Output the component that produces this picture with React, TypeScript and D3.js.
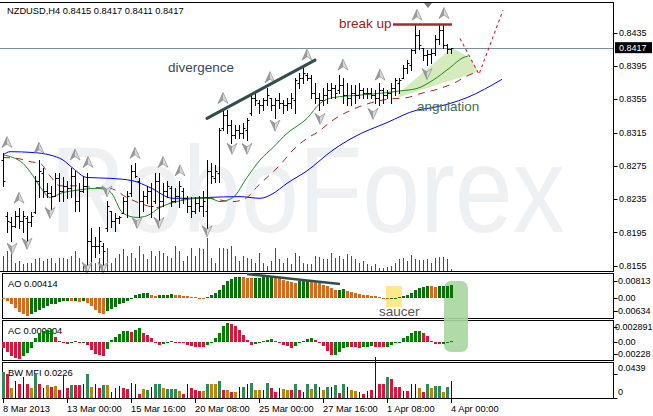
import React from "react";
import * as d3 from "d3";

// NZDUSD H4 bars (index 0 = 8 Mar 2013)
const opens = [
  0.8282, 0.8215, 0.8207, 0.8203, 0.8215, 0.8209, 0.8212, 0.8207, 0.8219, 0.8257,
  0.8267, 0.8245, 0.8242, 0.8239, 0.826, 0.8245, 0.8251, 0.8248, 0.8263, 0.8233,
  0.8245, 0.8251, 0.8185, 0.8179, 0.8179, 0.8179, 0.82, 0.8221, 0.8209, 0.8212,
  0.8218, 0.8233, 0.8242, 0.8269, 0.8257, 0.8233, 0.8239, 0.8245, 0.8233, 0.8257,
  0.8233, 0.8245, 0.8248, 0.8233, 0.8239, 0.8245, 0.8236, 0.8227, 0.8221, 0.823,
  0.8227, 0.8221, 0.8269, 0.826, 0.8267, 0.832, 0.8336, 0.8324, 0.8312, 0.8318,
  0.8315, 0.8318, 0.8338, 0.8357, 0.8351, 0.8348, 0.8354, 0.8356, 0.8348, 0.8354,
  0.835, 0.8348, 0.8351, 0.8354, 0.8375, 0.838, 0.8384, 0.8381, 0.8362, 0.8356,
  0.8354, 0.836, 0.8366, 0.8368, 0.8366, 0.8372, 0.836, 0.8356, 0.8363, 0.836,
  0.8366, 0.8363, 0.8362, 0.836, 0.8357, 0.8366, 0.836, 0.8362, 0.8368, 0.8375,
  0.8381, 0.8392, 0.8396, 0.8414, 0.8432, 0.8417, 0.8408, 0.841, 0.8411, 0.8428,
  0.8438, 0.842, 0.8415,
];
const highs = [
  0.8291, 0.8219, 0.8213, 0.8221, 0.8224, 0.8221, 0.8215, 0.8219, 0.8263, 0.8282,
  0.8273, 0.8254, 0.8251, 0.8266, 0.8266, 0.8261, 0.8257, 0.8273, 0.8269, 0.8254,
  0.8263, 0.8266, 0.82, 0.8189, 0.8201, 0.8182, 0.8233, 0.8221, 0.8218, 0.8215,
  0.8237, 0.8245, 0.8276, 0.8278, 0.826, 0.8245, 0.8251, 0.8254, 0.8266, 0.8267,
  0.8254, 0.8257, 0.8251, 0.8248, 0.8257, 0.8248, 0.8239, 0.8237, 0.8237, 0.8239,
  0.8245, 0.8282, 0.8279, 0.8276, 0.832, 0.8342, 0.8342, 0.833, 0.8324, 0.8324,
  0.8326, 0.8333, 0.8362, 0.8363, 0.8354, 0.8357, 0.8368, 0.8357, 0.8357, 0.8362,
  0.8354, 0.8356, 0.8362, 0.8381, 0.8386, 0.8396, 0.8386, 0.8384, 0.8374, 0.8362,
  0.8368, 0.8374, 0.8375, 0.8372, 0.8384, 0.8381, 0.8375, 0.8372, 0.8372, 0.8375,
  0.8368, 0.8368, 0.8369, 0.8366, 0.8374, 0.8368, 0.8366, 0.8374, 0.8381, 0.8381,
  0.8396, 0.8402, 0.8416, 0.8444, 0.8438, 0.8417, 0.8414, 0.8416, 0.8432, 0.8446,
  0.8446, 0.8422, 0.8417,
];
const lows = [
  0.8251, 0.8195, 0.8185, 0.8201, 0.82, 0.8195, 0.8185, 0.8203, 0.8218, 0.8237,
  0.8237, 0.8237, 0.8221, 0.8239, 0.8233, 0.8233, 0.8236, 0.8237, 0.8221, 0.8221,
  0.8243, 0.8153, 0.8161, 0.8165, 0.817, 0.8153, 0.8197, 0.8201, 0.8197, 0.8206,
  0.8218, 0.8213, 0.8239, 0.8261, 0.8213, 0.8221, 0.823, 0.8213, 0.823, 0.8209,
  0.8227, 0.8237, 0.8227, 0.8231, 0.8225, 0.823, 0.8219, 0.8213, 0.8218, 0.8221,
  0.8215, 0.82, 0.8254, 0.8255, 0.8255, 0.8318, 0.8314, 0.8303, 0.8308, 0.8308,
  0.8309, 0.8306, 0.8336, 0.8348, 0.8338, 0.8342, 0.8348, 0.8342, 0.8333, 0.8344,
  0.8338, 0.8342, 0.8344, 0.8339, 0.8368, 0.8374, 0.8378, 0.8357, 0.835, 0.8342,
  0.8348, 0.835, 0.8357, 0.8357, 0.8363, 0.8351, 0.8348, 0.8348, 0.8351, 0.8356,
  0.8357, 0.8357, 0.8356, 0.835, 0.8348, 0.8351, 0.8356, 0.8351, 0.836, 0.8363,
  0.8381, 0.8386, 0.839, 0.8411, 0.8416, 0.8402, 0.8396, 0.8398, 0.8408, 0.8422,
  0.8417, 0.8411, 0.8411,
];
const closes = [
  0.8257, 0.8209, 0.8203, 0.8215, 0.8209, 0.8215, 0.8207, 0.8215, 0.8257, 0.8269,
  0.8245, 0.8242, 0.8239, 0.826, 0.8245, 0.8251, 0.8248, 0.8263, 0.8233, 0.8245,
  0.8251, 0.8185, 0.8179, 0.8179, 0.8185, 0.8173, 0.8227, 0.8209, 0.8212, 0.8213,
  0.8233, 0.8239, 0.8269, 0.8263, 0.8233, 0.8239, 0.8245, 0.8227, 0.8257, 0.8233,
  0.8245, 0.8251, 0.8233, 0.8239, 0.8251, 0.8236, 0.8227, 0.8221, 0.823, 0.8227,
  0.8233, 0.8269, 0.8263, 0.8269, 0.8318, 0.8336, 0.8324, 0.8312, 0.8318, 0.8315,
  0.832, 0.833, 0.8357, 0.8354, 0.8348, 0.8354, 0.836, 0.8348, 0.8354, 0.835,
  0.8348, 0.8351, 0.8356, 0.8378, 0.838, 0.8386, 0.8381, 0.8362, 0.8356, 0.8354,
  0.836, 0.8366, 0.8368, 0.8363, 0.8372, 0.836, 0.8356, 0.8363, 0.836, 0.8366,
  0.8363, 0.8362, 0.836, 0.8357, 0.8366, 0.836, 0.8362, 0.8368, 0.8378, 0.8378,
  0.8392, 0.8398, 0.8414, 0.8432, 0.842, 0.8408, 0.841, 0.8411, 0.8428, 0.8438,
  0.842, 0.8416, 0.8417,
];
const volumes = [
  1500, 2000, 1700, 800, 1000, 700, 800, 800, 1200, 1300,
  1000, 1200, 1300, 800, 1300, 1300, 1200, 1500, 2000, 1300,
  500, 1000, 1300, 800, 1300, 1700, 2300, 800, 1300, 1700,
  2200, 1500, 1800, 1300, 2500, 1700, 1200, 2000, 1500, 2000,
  1800, 1500, 1300, 2500, 2000, 1000, 1500, 2300, 1500, 2300,
  2200, 3300, 1300, 800, 2300, 2300, 2200, 2500, 1500, 1000,
  1500, 1300, 1200, 800, 1800, 800, 500, 1000, 2300, 1200,
  800, 1300, 700, 1800, 1500, 800, 700, 700, 1500, 1400,
  1200, 1200, 1800, 1300, 1500, 1200, 1700, 1500, 1200, 800,
  1000, 700, 500, 700, 300, 300, 400, 500, 800, 1200,
  1300, 1000, 1600, 1200, 1100, 1100, 1200, 800, 1300, 1400,
  1400, 1200, 200,
];

// Alligator lines: [bar index, price]
const jawLine = [
  [0, 0.8288], [1.75, 0.8292], [7.5, 0.8291], [11.75, 0.8288], [15, 0.8282], [17.5, 0.8272],
  [21, 0.8261], [26.75, 0.826], [32.5, 0.8257], [36.75, 0.8249], [42.5, 0.8236], [46, 0.8236],
  [51, 0.8237], [59.25, 0.8238], [64.25, 0.8236], [67.25, 0.8241], [71, 0.8254], [76, 0.8269],
  [82.5, 0.8294], [87.5, 0.8309], [96, 0.8327], [103.5, 0.8342], [107.5, 0.8345], [116, 0.8357],
  [124.75, 0.8379],
];
const teethLine = [
  [0, 0.8285], [3.5, 0.8284], [6.75, 0.828], [9.25, 0.8278], [11.75, 0.8263], [14.25, 0.8251],
  [18.5, 0.8251], [22.5, 0.8249], [26.75, 0.8248], [31, 0.8237], [34.25, 0.823], [38.5, 0.8225],
  [41.75, 0.823], [46, 0.8236], [51, 0.8236], [57.5, 0.8232], [61, 0.8237], [63.75, 0.8251],
  [66, 0.8261], [69.25, 0.8276], [72.5, 0.8294], [76, 0.8308], [78.5, 0.8315], [82.5, 0.833],
  [88.5, 0.8345], [96, 0.8355], [101, 0.8357], [104.5, 0.8362], [109.25, 0.8368], [113, 0.8375],
  [116, 0.8383], [118.5, 0.8388],
];
const lipsLine = [
  [0, 0.8288], [2.5, 0.8285], [5, 0.8278], [7.5, 0.8263], [10, 0.8245], [11.75, 0.8237],
  [15, 0.8243], [17.5, 0.8245], [23.5, 0.8248], [26.75, 0.8244], [30, 0.8218], [33.5, 0.8213],
  [36, 0.8215], [39.25, 0.8225], [44.25, 0.8233], [49.25, 0.8236], [51.75, 0.8236], [54.25, 0.8232],
  [57.5, 0.8237], [61, 0.8261], [64.25, 0.8282], [67.5, 0.8297], [71, 0.8314], [76, 0.8332],
  [79.25, 0.835], [82.5, 0.8357], [89.25, 0.836], [96, 0.8363], [99.25, 0.8365], [103.5, 0.8368],
  [107.5, 0.8378], [111.75, 0.8393], [115, 0.8405], [116.25, 0.8407],
];

const upFractals = [
  [1, 0.8303], [4, 0.8236], [9, 0.8296], [18, 0.8288], [21.25, 0.8279], [33, 0.829],
  [40, 0.8279], [44.25, 0.8269], [55, 0.8356], [66.75, 0.8381], [76, 0.8408], [85, 0.8396],
  [94.25, 0.8384], [103.5, 0.8456], [110.25, 0.8458],
];
const downFractals = [
  [2.25, 0.8176], [6, 0.8182], [11.75, 0.8219], [26, 0.8245], [21, 0.8153], [25, 0.8153],
  [33.5, 0.8207], [39, 0.8207], [51, 0.8197], [57.25, 0.8296], [61, 0.8296], [68, 0.8324],
  [79.25, 0.8332], [92.5, 0.8338], [106, 0.8386],
];

// annotations
const angulationZone = [[98.75, 0.8362], [112.25, 0.8417], [116.75, 0.8405], [118.75, 0.8388], [98.75, 0.8357]];
const projection = [[114.25, 0.8428], [119, 0.8385], [125, 0.8462]];
const divergenceLine = [[51, 0.8332], [78, 0.8402]];
const breakUpLine = [[97.5, 0.8445], [112.25, 0.8445]];
const aoDivergence = [[61, 0.0113], [84.25, 0.0066]];
const currentPrice = 0.8417;

const aoValues = [
  -0.0005, -0.0013, -0.0031, -0.0047, -0.0066, -0.0078, -0.0086, -0.0075, -0.0067, -0.0058,
  -0.0047, -0.0039, -0.0031, -0.0027, -0.0019, -0.0016, -0.0013, -0.0016, -0.0013, -0.002,
  -0.0016, -0.0024, -0.0039, -0.0055, -0.0071, -0.0075, -0.0063, -0.0052, -0.0044, -0.0031,
  -0.0024, -0.0013, -0.0005, 0.0013, 0.0019, 0.0022, 0.0024, 0.0016, 0.0011, 0.0013,
  0.0014, 0.0016, 0.0019, 0.0014, 0.0013, 0.0011, 0.0008, 0.0005, 0.0002, -0.0002,
  -0.0003, 0.0005, 0.0013, 0.0024, 0.0038, 0.0063, 0.0078, 0.0091, 0.0097, 0.01,
  0.0097, 0.0094, 0.0092, 0.0094, 0.0096, 0.0097, 0.0099, 0.01, 0.0097, 0.0094,
  0.0086, 0.0078, 0.0074, 0.007, 0.0078, 0.0083, 0.0086, 0.0083, 0.0078, 0.007,
  0.006, 0.0055, 0.0047, 0.0036, 0.0038, 0.004, 0.0031, 0.0026, 0.0022, 0.0019,
  0.0016, 0.0013, 0.0011, 0.0009, 0.0005, -0.0002, -0.0004, -0.0003, -0.0002, 0.0003,
  0.0009, 0.0015, 0.0024, 0.0036, 0.0045, 0.0052, 0.0057, 0.0054, 0.0052, 0.0054,
  0.0056, 0.0058, 0.0059,
];
const acValues = [
  -0.00111, -0.00188, -0.00272, -0.00305, -0.00316, -0.00272, -0.00208, -0.00111, 0.00078, 0.00175,
  0.00213, 0.00246, 0.00258, 0.00097, 0.00019, -0.00019, -0.00039, -0.00019, 0.00019, -0.00019,
  0.0001, -0.00058, -0.00155, -0.00233, -0.00246, -0.00258, -0.00136, 0.00039, 0.00097, 0.00155,
  0.00213, 0.00227, 0.00194, 0.00246, 0.00266, 0.0018, 0.00149, 0.00083, -0.00014, -0.00045,
  -0.00033, -0.00014, 0.00019, 0.0001, -0.00006, -0.00014, -0.00045, -0.00078, -0.00083, -0.00091,
  -0.00097, -0.00045, -0.00014, 0.00083, 0.0018, 0.0031, 0.00369, 0.00349, 0.0031, 0.00246,
  0.00149, 0.00052, -0.00045, -0.00033, -0.00014, 0.00019, 0.00045, 0.00072, 0.00033, -0.00002,
  -0.00045, -0.00078, -0.00111, -0.00078, -0.00014, 0.00033, 0.00072, 0.00083, 0.00052, -0.00002,
  -0.00078, -0.00175, -0.00246, -0.00239, -0.00194, -0.00103, -0.00083, -0.00091, -0.00097, -0.00103,
  -0.00091, -0.00083, -0.00078, -0.00083, -0.00091, -0.00097, -0.00083, -0.00058, -0.00019, 0.00014,
  0.00078, 0.0013, 0.00175, 0.00219, 0.00227, 0.00175, 0.00111, 0.00025, -0.00033, -0.00039,
  -0.00025, 0.00001, 0.000204,
];
const mfiValues = [
  0.047, 0.0439, 0.0165, 0.0298, 0.0256, 0.0366, 0.0256, 0.0165, 0.0426, 0.0243,
  0.0178, 0.0225, 0.0196, 0.0214, 0.0134, 0.039, 0.0165, 0.0225, 0.0225, 0.0225,
  0.0238, 0.0426, 0.0183, 0.0238, 0.0165, 0.0225, 0.0225, 0.0104, 0.0165, 0.0207,
  0.0178, 0.0152, 0.0269, 0.0256, 0.0073, 0.0152, 0.0134, 0.0183, 0.0238, 0.0238,
  0.0165, 0.0152, 0.0152, 0.0152, 0.011, 0.0073, 0.0256, 0.0178, 0.0134, 0.0115,
  0.0123, 0.0243, 0.0238, 0.0243, 0.0298, 0.0134, 0.0134, 0.0104, 0.0092, 0.0183,
  0.0196, 0.0256, 0.0269, 0.0134, 0.0134, 0.0134, 0.0269, 0.0165, 0.0104, 0.0165,
  0.0152, 0.0146, 0.0134, 0.0243, 0.0134, 0.0104, 0.0243, 0.0152, 0.0238, 0.0196,
  0.0134, 0.0196, 0.0196, 0.0225, 0.0086, 0.0243, 0.0183, 0.0134, 0.0115, 0.0104,
  0.0073, 0.0115, 0.0134, 0.0745, 0.0256, 0.0243, 0.0366, 0.0335, 0.0196, 0.0196,
  0.0115, 0.0115, 0.0238, 0.0238, 0.0178, 0.0104, 0.0243, 0.0178, 0.0214, 0.0214,
  0.0104, 0.02, 0.0306,
];
// G = green, F = fade, B = fake, S = squat
const mfiStates = [
  "G", "S", "F", "B", "S", "B", "S", "F", "G", "S",
  "B", "F", "S", "F", "S", "B", "S", "G", "S", "S",
  "B", "G", "F", "B", "S", "G", "F", "B", "B", "B",
  "S", "S", "B", "B", "S", "F", "G", "B", "G", "G",
  "F", "G", "G", "G", "F", "S", "B", "S", "S", "S",
  "F", "G", "F", "F", "G", "S", "F", "S", "F", "B",
  "G", "B", "G", "F", "F", "B", "G", "S", "S", "B",
  "F", "F", "S", "G", "S", "B", "G", "F", "G", "B",
  "F", "G", "B", "G", "S", "G", "B", "F", "F", "B",
  "S", "B", "S", "B", "S", "S", "G", "S", "S", "S",
  "B", "S", "B", "B", "F", "S", "G", "F", "G", "G",
  "F", "G", "B",
];

const priceTicks = [0.8435, 0.8395, 0.8355, 0.8315, 0.8275, 0.8235, 0.8195, 0.8155];
const aoTicks = [0.00813, 0, -0.00634];
const aoTickLabels = ["0.00813", "0.00", "-0.00634"];
const acTicks = [0.002891, 0, -0.00228];
const acTickLabels = ["0.002891", "0.00", "-0.00228"];
const mfiTicks = [0.0439, 0];
const mfiTickLabels = ["0.0439", "0"];
const timeBars = [0, 16, 32, 48, 64, 80, 96, 112];
const timeLabels = ["8 Mar 2013", "13 Mar 00:00", "15 Mar 16:00", "20 Mar 08:00", "25 Mar 00:00", "27 Mar 16:00", "1 Apr 08:00", "4 Apr 00:00"];

const FONT = "'Liberation Sans', Arial, sans-serif";
const mfiColor: Record<string, string> = { G: "#2e8b57", F: "#b8860b", B: "#0000cd", S: "#dc143c" };

function Fractal({ cx, cy, up }: { cx: number; cy: number; up: boolean }) {
  const s = up ? 1 : -1;
  const tip = `${cx},${cy - 6 * s}`;
  const left = `${cx - 5},${cy + 5 * s}`;
  const right = `${cx + 5},${cy + 5 * s}`;
  const notch = `${cx},${cy + 1.5 * s}`;
  return (
    <g>
      <path d={`M${tip}L${left}L${notch}Z`} fill="#9c9c9c" />
      <path d={`M${tip}L${right}L${notch}Z`} fill="#dadada" />
      <path d={`M${tip}L${right}L${notch}L${left}Z`} fill="none" stroke="#7d7d7d" strokeWidth={0.6} />
    </g>
  );
}

export default function App() {
  const x = d3.scaleLinear().domain([0, 112]).range([3, 451]);
  const yP = d3.scaleLinear().domain([0.8155, 0.8435]).range([265.7, 32.7]);
  const yV = d3.scaleLinear().domain([0, 3300]).range([271, 238]);
  const yAO = d3.scaleLinear().domain([-0.00634, 0.00813]).range([311.3, 280.7]);
  const yAC = d3.scaleLinear().domain([-0.00228, 0.002891]).range([354, 327.3]);
  const yMFI = d3.scaleLinear().domain([0, 0.0439]).range([397.5, 373.5]);
  const px = (i: number) => Math.round(x(i)) + 0.5;
  const crisp = (v: number) => Math.round(v) + 0.5;

  const priceLine = d3
    .line<number[]>()
    .x((d) => x(d[0]))
    .y((d) => yP(d[1]))
    .curve(d3.curveMonotoneX);
  const straight = d3
    .line<number[]>()
    .x((d) => x(d[0]))
    .y((d) => yP(d[1]));

  const aoZero = yAO(0);
  const acZero = yAC(0);

  return (
    <svg
      width={653}
      height={416}
      style={{ position: "absolute", left: 0, top: 0, background: "#fff" }}
      fontFamily={FONT}
    >
      <rect width={653} height={416} fill="#fff" />

      {/* watermark */}
      <g transform="translate(50,232) scale(0.853,1)">
        <text x={0} y={0} fontSize={122} fill="#eef1f4">RoboForex</text>
      </g>

      {/* volumes */}
      {volumes.map((v, i) => (
        <line key={"v" + i} x1={px(i)} x2={px(i)} y1={271} y2={Math.round(yV(v))} stroke="#008000" strokeWidth={1} />
      ))}

      {/* current price line */}
      <line x1={0} x2={613} y1={crisp(yP(currentPrice))} y2={crisp(yP(currentPrice))} stroke="#7d8d9c" strokeWidth={1} />

      {/* angulation zone */}
      <path d={straight(angulationZone) + "Z"} fill="#d6ebbd" />

      {/* alligator */}
      <path d={priceLine(jawLine) || ""} fill="none" stroke="#0000ff" strokeWidth={1} />
      <path d={priceLine(teethLine) || ""} fill="none" stroke="#b22222" strokeWidth={1} strokeDasharray="7,6" />
      <path d={priceLine(lipsLine) || ""} fill="none" stroke="#1b8a1b" strokeWidth={1} />

      {/* price bars */}
      {highs.map((h, i) => {
        const bx = px(i);
        return (
          <g key={"b" + i} stroke="#000" strokeWidth={1}>
            <line x1={bx} x2={bx} y1={Math.round(yP(h))} y2={Math.round(yP(lows[i])) + 1} />
            <line x1={bx - 2} x2={bx} y1={crisp(yP(opens[i]))} y2={crisp(yP(opens[i]))} />
            <line x1={bx} x2={bx + 2} y1={crisp(yP(closes[i]))} y2={crisp(yP(closes[i]))} />
          </g>
        );
      })}

      {/* fractals */}
      {upFractals.map((d, i) => (
        <Fractal key={"u" + i} cx={x(d[0])} cy={yP(d[1])} up={true} />
      ))}
      {downFractals.map((d, i) => (
        <Fractal key={"d" + i} cx={x(d[0])} cy={yP(d[1])} up={false} />
      ))}

      {/* annotations */}
      <path d={straight(divergenceLine) || ""} stroke="#2f4f4f" strokeWidth={3} strokeLinecap="round" />
      <text x={168} y={72} fontSize={13.5} fill="#34495e">divergence</text>
      <path d={straight(breakUpLine) || ""} stroke="#a52a2a" strokeWidth={2.5} />
      <text x={339} y={27.5} fontSize={13.5} fill="#9b1c1c">break up</text>
      <text x={417} y={111} fontSize={13.5} fill="#3e6f4f">angulation</text>
      <path d={straight(projection) || ""} fill="none" stroke="#c62828" strokeWidth={1.1} strokeDasharray="3,3" />
      <path d="M424,3 L432,3 L428,8 Z" fill="#808080" />

      {/* main frame & axis */}
      <g stroke="#000" strokeWidth={1}>
        <line x1={0} x2={614} y1={2.5} y2={2.5} />
        <line x1={613.5} x2={613.5} y1={2.5} y2={271.5} />
        <line x1={0} x2={614} y1={271.5} y2={271.5} />
      </g>
      {priceTicks.map((t) => (
        <g key={"pt" + t}>
          <line x1={613.5} x2={617.5} y1={crisp(yP(t))} y2={crisp(yP(t))} stroke="#000" />
          <text x={619} y={yP(t)} dy="0.35em" fontSize={9} fill="#000">{t.toFixed(4)}</text>
        </g>
      ))}
      <rect x={615} y={yP(currentPrice) - 5.5} width={37} height={11} fill="#000" />
      <text x={619} y={yP(currentPrice)} dy="0.35em" fontSize={9} fill="#fff">{currentPrice.toFixed(4)}</text>
      <text x={7} y={14} fontSize={9.3} fill="#000">NZDUSD,H4  0.8415 0.8417 0.8411 0.8417</text>

      {/* sub-panel frames */}
      <g fill="none" stroke="#000" strokeWidth={1}>
        <rect x={2.5} y={273.5} width={611} height={45} />
        <rect x={2.5} y={320.5} width={611} height={40} />
        <rect x={2.5} y={362.5} width={611} height={36} />
      </g>

      {/* panel titles, drawn under the bars */}
      <text x={8} y={287} fontSize={9.3} fill="#000">AO 0.00414</text>
      <text x={8} y={333.5} fontSize={9.3} fill="#000">AC 0.000204</text>
      <text x={8} y={376} fontSize={9.3} fill="#000">BW MFI 0.0226</text>

      {/* AO */}
      <rect x={x(96) - 1} y={yAO(0.0057)} width={x(100) - x(96)} height={yAO(-0.0043) - yAO(0.0057)} fill="#ffe98c" />
      <rect
        x={x(110.25)}
        y={yAO(0.008)}
        width={x(116.25) - x(110.25)}
        height={yAC(-0.0019) - yAO(0.008)}
        rx={7}
        fill="#a9d6a0"
        opacity={0.9}
      />
      {aoValues.map((v, i) => {
        const up = i > 0 && v > aoValues[i - 1];
        const y0 = Math.round(Math.min(yAO(v), aoZero));
        const y1 = Math.round(Math.max(yAO(v), aoZero));
        return (
          <rect key={"ao" + i} x={Math.round(x(i)) - 1} y={y0} width={3} height={Math.max(1, y1 - y0)} fill={up ? "#0a700a" : "#d9691c"} />
        );
      })}
      <path
        d={d3.line<number[]>().x((d) => x(d[0])).y((d) => yAO(d[1]))(aoDivergence) || ""}
        stroke="#2f4f4f"
        strokeWidth={2.5}
      />
      <text x={379} y={316} fontSize={13.5} fill="#555" stroke="#fff" strokeWidth={2} paintOrder="stroke">saucer</text>
      {aoTicks.map((t, k) => (
        <g key={"aot" + k}>
          <line x1={613.5} x2={617.5} y1={crisp(yAO(t))} y2={crisp(yAO(t))} stroke="#000" />
          <text x={t < 0 ? 615 : 618} y={yAO(t)} dy="0.35em" fontSize={9} fill="#000">{aoTickLabels[k]}</text>
        </g>
      ))}

      {/* AC */}
      {acValues.map((v, i) => {
        const up = i > 0 && v > acValues[i - 1];
        const y0 = Math.round(Math.min(yAC(v), acZero));
        const y1 = Math.round(Math.max(yAC(v), acZero));
        return (
          <rect key={"ac" + i} x={Math.round(x(i)) - 1} y={y0} width={3} height={Math.max(1, y1 - y0)} fill={up ? "#008000" : "#dc143c"} />
        );
      })}
      {acTicks.map((t, k) => (
        <g key={"act" + k}>
          <line x1={613.5} x2={617.5} y1={crisp(yAC(t))} y2={crisp(yAC(t))} stroke="#000" />
          <text x={t === 0 ? 618 : 615} y={yAC(t)} dy="0.35em" fontSize={9} fill="#000">{acTickLabels[k]}</text>
        </g>
      ))}

      {/* BW MFI */}
      {mfiValues.map((v, i) => {
        const st = mfiStates[i];
        const top = Math.round(yMFI(v));
        return st === "B" ? (
          <line key={"m" + i} x1={px(i)} x2={px(i)} y1={top} y2={398} stroke={mfiColor[st]} strokeWidth={1} />
        ) : (
          <rect key={"m" + i} x={Math.round(x(i)) - 1} y={top} width={3} height={398 - top} fill={mfiColor[st]} />
        );
      })}
      {mfiTicks.map((t, k) => (
        <g key={"mt" + k}>
          <line x1={613.5} x2={617.5} y1={crisp(yMFI(t))} y2={crisp(yMFI(t))} stroke="#000" />
          <text x={618} y={yMFI(t) - 5.5} dy="0.35em" fontSize={9} fill="#000">{mfiTickLabels[k]}</text>
        </g>
      ))}

      {/* time axis */}
      {timeBars.map((b, k) => (
        <g key={"tb" + k}>
          <line x1={px(b)} x2={px(b)} y1={398.5} y2={403} stroke="#000" />
          <text x={Math.round(x(b))} y={411.5} fontSize={9.3} fill="#000">{timeLabels[k]}</text>
        </g>
      ))}
    </svg>
  );
}
